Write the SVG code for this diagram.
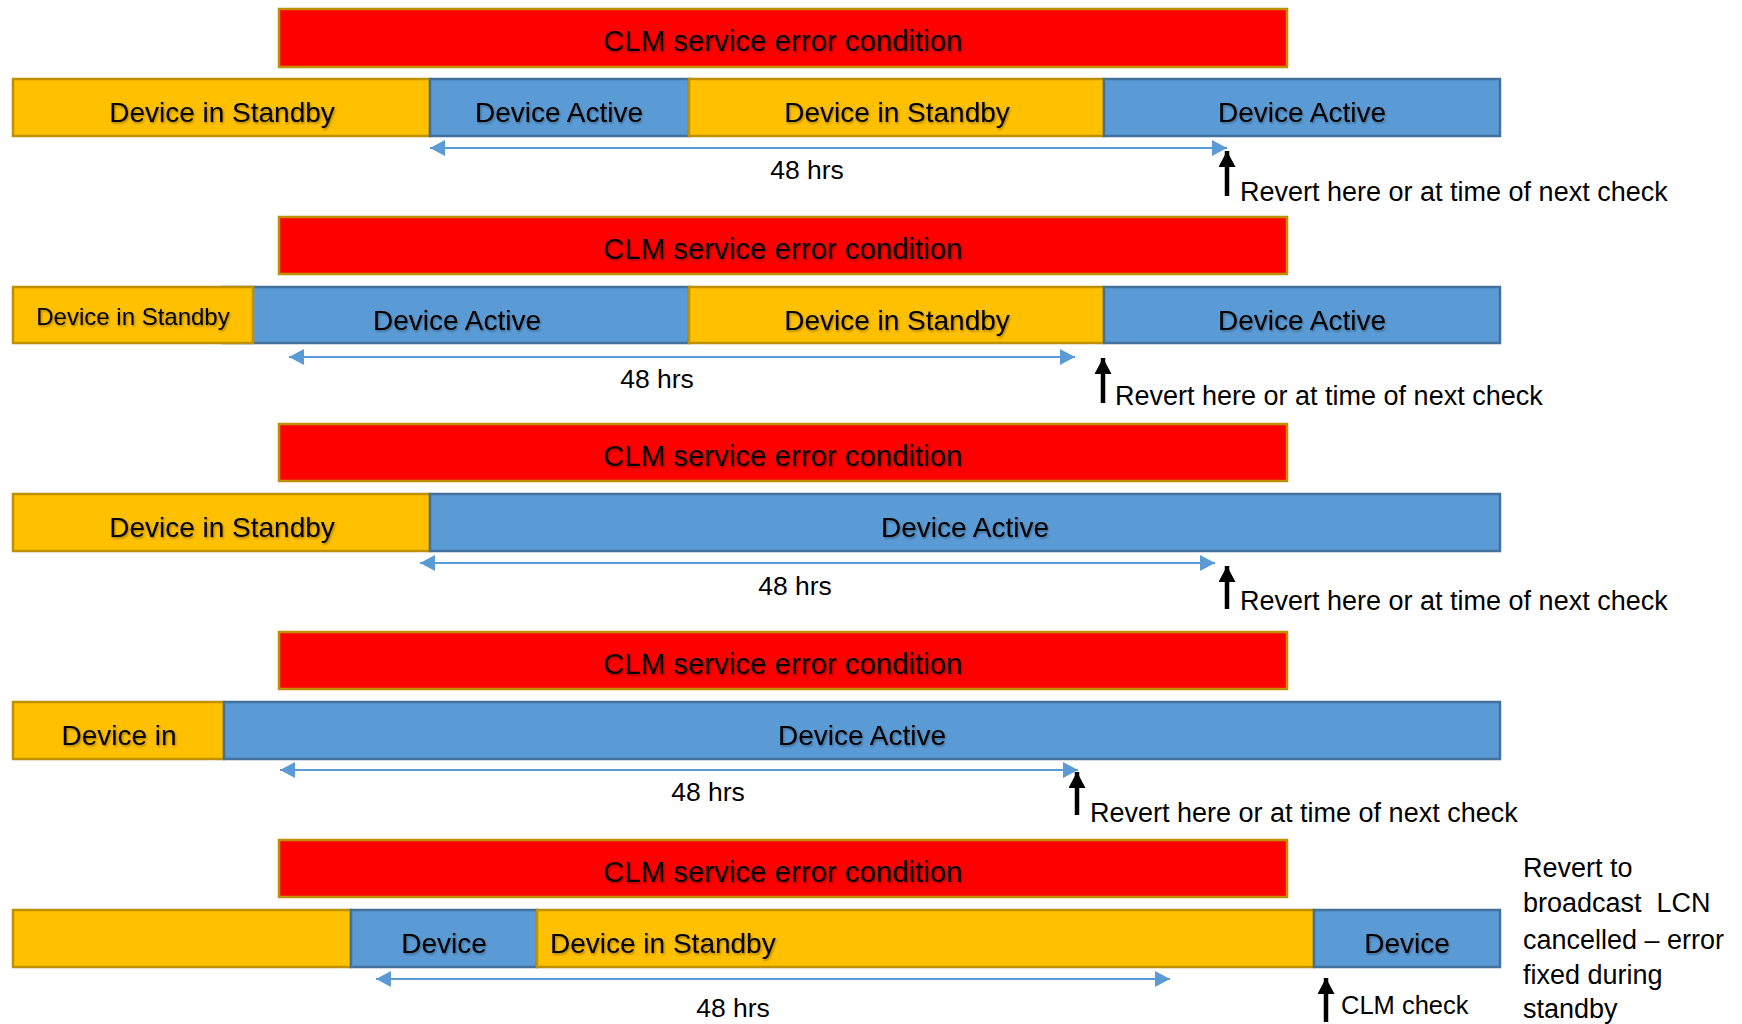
<svg xmlns="http://www.w3.org/2000/svg" width="1742" height="1024" viewBox="0 0 1742 1024">
<style>
.red{fill:#FF0000;stroke:#BF9000;stroke-width:2.5}
.sb{fill:#FFC000;stroke:#BF9000;stroke-width:2.5}
.act{fill:#5B9BD5;stroke:#41719C;stroke-width:2.5}
text{font-family:"Liberation Sans",Arial,sans-serif;fill:#000}
.bt{font-size:28px;text-anchor:middle;filter:url(#sh)}
.et{font-size:29.4px;text-anchor:middle;filter:url(#sh)}
.bts{font-size:24px;text-anchor:middle;filter:url(#sh)}
.lbl{font-size:27px}
.chk{font-size:25.5px}
.hrs{font-size:26.5px;text-anchor:middle}
.span{stroke:#5B9BD5;stroke-width:2;fill:none;marker-start:url(#bh);marker-end:url(#bh)}
.up{stroke:#000;stroke-width:4.5;fill:none;marker-end:url(#kh)}
</style>
<defs>
<filter id="sh" x="-5%" y="-20%" width="110%" height="150%">
<feDropShadow dx="1" dy="1.5" stdDeviation="1" flood-color="#000" flood-opacity="0.35"/>
</filter>
<marker id="bh" markerUnits="userSpaceOnUse" markerWidth="16" markerHeight="18" refX="15" refY="8" orient="auto-start-reverse" viewBox="0 0 16 16">
<path d="M0,0 L15,8 L0,16 Z" fill="#5B9BD5"/>
</marker>
<marker id="kh" markerUnits="userSpaceOnUse" markerWidth="17" markerHeight="17" refX="15" refY="8" orient="auto" viewBox="0 0 16 16">
<path d="M0,0 L15,8 L0,16 Z" fill="#000"/>
</marker>
</defs>
<rect width="1742" height="1024" fill="#fff"/>

<!-- Row 1 -->
<g id="r1-error"><rect class="red" x="279" y="9" width="1008" height="58"/><text class="et" x="783" y="51">CLM service error condition</text></g>
<g id="r1-standby1"><rect class="sb" x="13" y="79" width="417" height="57"/><text class="bt" x="222" y="122">Device in Standby</text></g>
<g id="r1-active1"><rect class="act" x="430" y="79" width="259" height="57"/><text class="bt" x="559" y="122">Device Active</text></g>
<g id="r1-standby2"><rect class="sb" x="689" y="79" width="415" height="57"/><text class="bt" x="897" y="122">Device in Standby</text></g>
<g id="r1-active2"><rect class="act" x="1104" y="79" width="396" height="57"/><text class="bt" x="1302" y="122">Device Active</text></g>
<g id="r1-labels"><text class="hrs" x="807" y="179">48 hrs</text><text class="lbl" x="1240" y="201">Revert here or at time of next check</text></g>

<!-- Row 2 -->
<g id="r2-error"><rect class="red" x="279" y="217" width="1008" height="57"/><text class="et" x="783" y="259">CLM service error condition</text></g>
<g id="r2-active1"><rect class="act" x="223" y="287" width="466" height="56"/><text class="bt" x="457" y="330">Device Active</text></g>
<g id="r2-standby1"><rect class="sb" x="13" y="287" width="240" height="56"/><text class="bts" x="133" y="325">Device in Standby</text></g>
<g id="r2-standby2"><rect class="sb" x="689" y="287" width="415" height="56"/><text class="bt" x="897" y="330">Device in Standby</text></g>
<g id="r2-active2"><rect class="act" x="1104" y="287" width="396" height="56"/><text class="bt" x="1302" y="330">Device Active</text></g>
<g id="r2-labels"><text class="hrs" x="657" y="388">48 hrs</text><text class="lbl" x="1115" y="405">Revert here or at time of next check</text></g>

<!-- Row 3 -->
<g id="r3-error"><rect class="red" x="279" y="424" width="1008" height="57"/><text class="et" x="783" y="466">CLM service error condition</text></g>
<g id="r3-standby1"><rect class="sb" x="13" y="494" width="417" height="57"/><text class="bt" x="222" y="537">Device in Standby</text></g>
<g id="r3-active1"><rect class="act" x="430" y="494" width="1070" height="57"/><text class="bt" x="965" y="537">Device Active</text></g>
<g id="r3-labels"><text class="hrs" x="795" y="595">48 hrs</text><text class="lbl" x="1240" y="610">Revert here or at time of next check</text></g>

<!-- Row 4 -->
<g id="r4-error"><rect class="red" x="279" y="632" width="1008" height="57"/><text class="et" x="783" y="674">CLM service error condition</text></g>
<g id="r4-standby1"><rect class="sb" x="13" y="702" width="211" height="57"/><text class="bt" x="119" y="745">Device in</text></g>
<g id="r4-active1"><rect class="act" x="224" y="702" width="1276" height="57"/><text class="bt" x="862" y="745">Device Active</text></g>
<g id="r4-labels"><text class="hrs" x="708" y="801">48 hrs</text><text class="lbl" x="1090" y="822">Revert here or at time of next check</text></g>

<!-- Row 5 -->
<g id="r5-error"><rect class="red" x="279" y="840" width="1008" height="57"/><text class="et" x="783" y="882">CLM service error condition</text></g>
<g id="r5-standby1"><rect class="sb" x="13" y="910" width="338" height="57"/></g>
<g id="r5-active1"><rect class="act" x="351" y="910" width="186" height="57"/><text class="bt" x="444" y="953">Device</text></g>
<g id="r5-standby2"><rect class="sb" x="537" y="910" width="777" height="57"/><text class="bt" x="550" y="953" style="text-anchor:start">Device in Standby</text></g>
<g id="r5-active2"><rect class="act" x="1314" y="910" width="186" height="57"/><text class="bt" x="1407" y="953">Device</text></g>
<g id="r5-labels"><text class="hrs" x="733" y="1017">48 hrs</text><text class="chk" x="1341" y="1014">CLM check</text>
<text class="lbl" x="1523" xml:space="preserve" style="white-space:pre"><tspan x="1523" y="877">Revert to</tspan><tspan x="1523" y="912">broadcast  LCN</tspan><tspan x="1523" y="949">cancelled – error</tspan><tspan x="1523" y="984">fixed during</tspan><tspan x="1523" y="1018">standby</tspan></text></g>

<!-- Connectors -->
<g id="connectors">
<line class="span" x1="430" y1="148" x2="1227" y2="148"/>
<line class="up" x1="1227" y1="196" x2="1227" y2="151"/>
<line class="span" x1="289" y1="357" x2="1075" y2="357"/>
<line class="up" x1="1103" y1="403" x2="1103" y2="358"/>
<line class="span" x1="420" y1="563" x2="1215" y2="563"/>
<line class="up" x1="1227" y1="609" x2="1227" y2="566"/>
<line class="span" x1="280" y1="770" x2="1078" y2="770"/>
<line class="up" x1="1077" y1="815" x2="1077" y2="772"/>
<line class="span" x1="376" y1="979" x2="1170" y2="979"/>
<line class="up" x1="1326" y1="1022" x2="1326" y2="978"/>
</g>
</svg>
